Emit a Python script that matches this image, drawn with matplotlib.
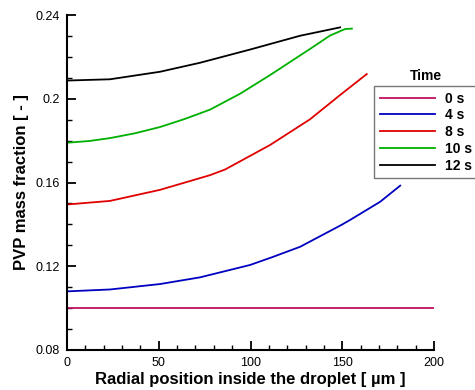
import numpy as np
import matplotlib
matplotlib.use("Agg")
from matplotlib import pyplot as plt
from matplotlib.ticker import MultipleLocator

plt.rcParams['font.family'] = ['Liberation Sans', 'DejaVu Sans']

# radial position [um] and PVP mass fraction
r_0s = [0, 200]
w_0s = [0.100, 0.100]

r_4s = [0, 23.4, 50.7, 72.5, 99.7, 112, 127, 149, 154.2, 170.6, 181.5]
w_4s = [0.1080, 0.1089, 0.1115, 0.1147, 0.1206, 0.1244, 0.1293, 0.1395, 0.1421, 0.1508, 0.1585]

r_8s = [0, 23.4, 50.7, 77.9, 86.1, 110.6, 132.4, 148.8, 163.3]
w_8s = [0.1495, 0.1512, 0.1565, 0.1635, 0.1662, 0.1779, 0.1902, 0.2018, 0.2118]

r_10s = [0, 12, 23.4, 37, 50.7, 64, 77.9, 94.3, 110.6, 132.4, 143.3, 151.5, 155.2]
w_10s = [0.1790, 0.1798, 0.1812, 0.1835, 0.1865, 0.1903, 0.1948, 0.2024, 0.2113, 0.2238, 0.2302, 0.2333, 0.2335]

r_12s = [0, 23.4, 50.7, 72.5, 99.7, 127, 148.8]
w_12s = [0.2087, 0.2093, 0.2129, 0.2172, 0.2235, 0.2301, 0.2341]

labels = ['0 s', '4 s', '8 s', '10 s', '12 s']
colors = ['#c0105e', '#0000c0', '#e00000', '#00b000', '#000000']


def main():
   fig = plt.figure(figsize=(4.75, 3.9), dpi=100)
   ax = fig.add_axes([0.141, 0.1026, 0.773, 0.8589])

   series = [(r_0s, w_0s), (r_4s, w_4s), (r_8s, w_8s), (r_10s, w_10s), (r_12s, w_12s)]
   for (r, w), lab, c in zip(series, labels, colors):
      ax.plot(r, w, color=c, lw=1.3, label=lab)

   ax.set_xlim(0, 200)
   ax.set_ylim(0.08, 0.24)
   ax.set_xticks([0, 50, 100, 150, 200])
   ax.set_yticks([0.08, 0.12, 0.16, 0.2, 0.24])
   ax.set_yticklabels(['0.08', '0.12', '0.16', '0.2', '0.24'])
   ax.xaxis.set_minor_locator(MultipleLocator(10))
   ax.yaxis.set_minor_locator(MultipleLocator(0.01))

   ax.spines['top'].set_visible(False)
   ax.spines['right'].set_visible(False)
   ax.spines['left'].set_linewidth(1.5)
   ax.spines['bottom'].set_linewidth(1.5)
   ax.tick_params(which='major', direction='in', length=6.5, width=1.3, labelsize=9, pad=5)
   ax.tick_params(which='minor', direction='in', length=3.5, width=1.0)

   ax.set_xlabel('Radial position inside the droplet [ µm ]', fontsize=12, fontweight='bold', labelpad=2)
   ax.set_ylabel('PVP mass fraction [ - ]', fontsize=12, fontweight='bold', labelpad=5)

   leg = ax.legend(loc='upper left', bbox_to_anchor=(374 / 475, 1 - 86 / 390),
                   bbox_transform=fig.transFigure, frameon=True, fancybox=False,
                   handlelength=4.0, handletextpad=0.7, borderpad=0.4, labelspacing=0.2,
                   prop={'weight': 'bold', 'size': 10}, borderaxespad=0)
   leg.get_frame().set_edgecolor('#555555')
   leg.get_frame().set_linewidth(1.0)
   fig.text(426 / 475, 1 - 76 / 390, 'Time', fontsize=10, fontweight='bold', ha='center', va='center')

   fig.savefig('out.png', dpi=100)


if __name__ == "__main__":
   main()
